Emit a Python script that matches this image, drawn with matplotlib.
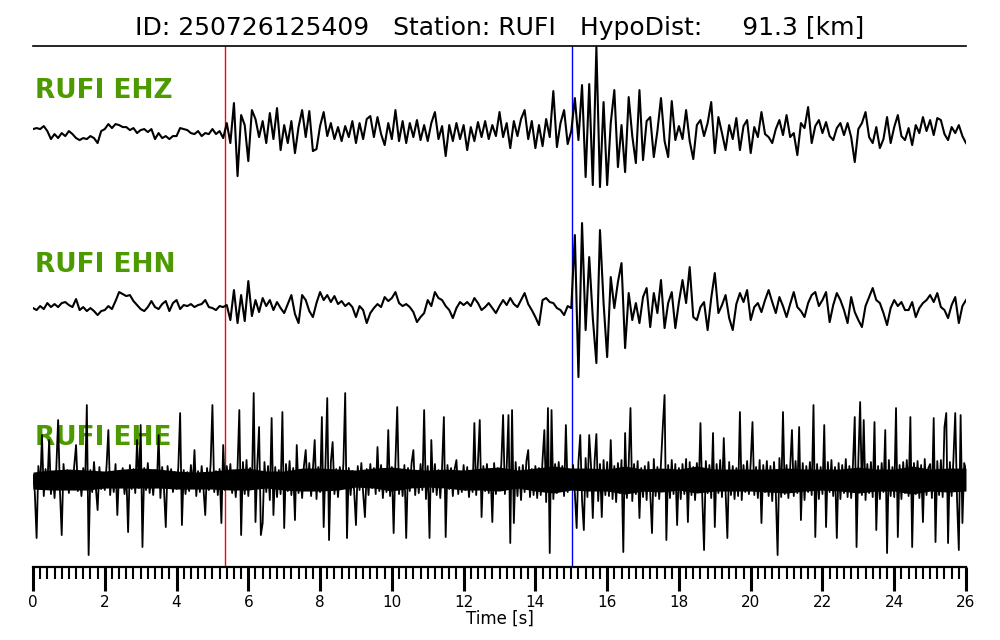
import numpy as np
import matplotlib.pyplot as plt
from matplotlib.ticker import MultipleLocator

# event info
event_id = "250726125409"
station = "RUFI"
hypo_dist = 91.3
channels = ["EHZ", "EHN", "EHE"]
p_pick = 5.35
s_pick = 15.02

# traces (amplitude in screen px, up = positive)
dt_zn = 0.1
ehz = [
    2, 3, 2, 5, 0, -8, -3, -7, -2, -5,
    0, -3, -7, -9, -7, -8, -5, -7, -12, 0,
    2, 7, 3, 7, 6, 4, 4, 1, 3, -2,
    1, 2, -1, 2, -8, -2, -7, -5, -8, -5,
    -5, 3, 2, 1, -2, -3, 0, -5, -2, -3,
    2, -3, 0, -7, 8, -12, 28, -45, 16, 6,
    -30, 21, 12, -6, 10, -12, 18, -8, 23, -19,
    6, -12, 10, -22, 4, 21, -6, 20, -20, -18,
    5, 19, -5, 8, -8, 4, -10, 5, -6, 10,
    -12, 8, -8, 12, 15, -6, 14, -3, -14, 8,
    -8, 21, -10, 10, -12, 8, -6, 11, -9, 6,
    -10, 8, 19, -8, 5, -25, 6, -10, 8, -8,
    6, -19, 4, -10, 9, -6, 10, -8, 6, -5,
    19, -6, 8, -17, 10, -5, 12, 21, -8, 10,
    -17, 6, -15, 12, -6, 40, -16, 8, 21, -13,
    0, 33, -9, 46, -46, 47, -54, 84, -56, 29,
    -54, 8, 41, -36, 6, -41, 34, -5, -32, 41,
    -29, 10, 14, -26, 0, 33, -10, -26, 30, -9,
    5, -8, 21, -10, -28, 6, 11, -5, 8, 29,
    -22, 14, -2, -19, 6, -8, 13, -19, 5, 11,
    -22, 4, -6, 19, -3, -6, -12, 2, 11, -4,
    16, -6, -2, -24, 8, 3, 24, -12, 5, 11,
    -2, 9, -5, -9, 3, 8, -4, 8, -6, -31,
    2, 8, 19, -6, -12, 4, -17, -8, 14, -12,
    4, 16, -5, -9, 3, -14, 6, -2, 14, 0,
    11, -4, 13, 11, -3, -9, 4, -2, 6, -5,
    -12,
]
ehn = [
    0, -2, 2, -1, 5, 1, 4, 1, 5, 6,
    3, 1, 9, -2, 1, -3, 0, -3, -7, -3,
    -2, 2, -1, 7, 16, 14, 12, 13, 7, 3,
    -1, -3, 1, 7, 1, -1, 4, 7, -3, 5,
    8, -1, 3, 2, 4, 1, 3, 4, 8, 1,
    0, -2, 2, 1, 3, -12, 18, -15, 13, -13,
    27, -8, 8, -4, 10, 2, 8, -2, 6, 0,
    -5, 4, 13, -6, -15, 13, 8, -3, -9, 5,
    16, 8, 13, 6, 12, 4, 7, 2, 5, 1,
    -9, 2, -2, -15, -5, 0, 4, 1, 11, 7,
    10, 16, 5, 2, 4, 1, -4, -14, -9, -5,
    8, 2, 16, 10, 8, 2, -2, -10, 0, 6,
    3, 6, 2, 10, 5, -2, 1, 5, 0, -5,
    2, 8, 3, 10, 4, 1, 8, 15, 4, -2,
    -9, -17, 8, 10, 6, 5, 0, -2, -7, 2,
    0, 73, -69, 85, -22, 51, -10, -55, 78, 5,
    -49, 31, 0, 26, 45, -40, 15, -12, 5, -15,
    11, 20, -19, 15, -5, 28, -20, 5, 16, -20,
    6, 28, 5, 41, -9, -12, 1, 6, -22, 10,
    35, -5, 3, 13, -10, -22, 4, 15, 6, 18,
    -12, 1, 5, -4, 8, 18, 6, -5, 11, 2,
    -9, 4, 16, 1, -3, -9, 5, 13, 16, 2,
    8, 16, -14, 3, 15, 8, -2, -15, 11, -4,
    -12, -19, 2, 11, 20, 8, 5, -5, -17, 0,
    8, 2, 6, -2, -2, 6, -9, 0, 5, 8,
    13, 6, 15, 1, -2, -10, 3, 11, -15, 2,
    8,
]
dt_e = 0.05
ehe = [
    5, -12, -58, 14, -9, 45, -16, 11, -7, 40, -14, 8, -18, 12, 60, -10, -55, 16, -8, 10,
    -13, 9, -6, 15, 35, -11, 7, -16, 12, -8, 75, -75, 10, -12, 18, -7, -30, 13, -9, 6,
    -10, 14, 50, -15, 8, -12, 16, -35, 9, -6, 12, -14, 7, -52, 15, -9, 11, -13, 40, -8,
    55, -67, 12, -10, 17, -13, 6, -15, 10, -7, 45, -18, 13, -9, -47, 14, -6, 11, -12, 8,
    -9, 13, 67, -45, 10, -14, 8, -11, 15, -7, 30, -16, 9, -12, 14, -8, -35, 12, -10, 16,
    75, -12, 9, -15, 11, -43, 35, -10, 14, -8, 16, -13, 7, -17, 12, 70, -55, 18, -14, 20,
    -16, 12, -9, 87, -42, 15, 53, -55, -43, 18, -12, 14, -20, 62, -35, 13, -17, 10, -14, 68,
    -48, 16, -11, 19, -15, 12, -40, 35, -13, 9, -18, 14, 30, -10, 17, -16, 11, 40, -19, 13,
    -12, 63, -47, 15, 82, -60, 18, 38, -14, 11, -17, 13, -9, 16, 87, -58, 12, -15, 9, -11,
    -45, 14, -10, 17, -13, -37, 11, -15, 16, -8, 12, -14, 33, -11, 15, -18, 9, -12, 50, -16,
    13, -53, 18, 73, -14, 10, -16, 15, -58, 12, -11, 17, 30, -15, 9, -13, 16, -10, 70, -19,
    14, -58, 40, -12, 16, -15, 10, -18, 13, 63, -57, 15, -9, 12, -16, 11, 20, -14, 8, -12,
    15, -10, 13, -17, 9, -12, 57, -15, 18, 60, -37, 14, -11, 16, -13, 10, -42, 17, -14, 12,
    -9, 16, 65, -14, 12, 65, -63, 70, -43, 18, -16, 13, -20, 15, -12, 19, 30, -17, 11, -15,
    14, -18, 12, -15, 20, 50, -22, 72, -73, 70, -19, 16, -13, 18, -11, 14, -16, 55, -12, 10,
    -8, 15, -13, -48, 18, 45, -20, -50, 22, -17, 45, 14, -38, 19, 46, -21, 16, -37, 20, -15,
    18, -16, 40, -19, 14, -22, 17, -13, 20, -72, 47, -18, 15, 72, -21, 16, -14, 19, -38, 12,
    -17, 14, -20, 18, -12, -53, 21, -16, 13, -19, 17, 53, 85, -60, 15, -18, 20, -14, 16, -45,
    12, -19, 16, -14, 21, -42, 18, -15, 13, -20, 17, -12, 57, -16, -70, 19, -13, 15, -18, 47,
    -47, 16, -13, 20, -17, 42, -11, -58, 18, -15, 14, -19, 12, -16, 68, -20, 15, -12, 19, -14,
    17, 58, -15, 13, -18, 20, -43, 15, -12, 19, -16, 14, -21, 18, -13, -75, 22, -17, 68, -14,
    15, -18, 12, 50, -16, 19, -13, 53, -40, 17, -20, 14, -12, 18, -15, 75, -57, 16, -19, 13,
    -14, 55, -47, 18, -12, 20, -16, 13, -58, 17, -19, 15, -13, 21, -17, 14, -18, 16, 63, -67,
    19, 78, -15, 60, -20, 16, -13, 18, -17, 58, -50, 14, -19, 17, -12, 50, -73, 20, -16, 13,
    -17, 72, -57, 15, -19, 18, -13, 20, -16, 63, -67, 17, -14, 19, -18, 15, -42, 21, -15, 12,
    16, -18, 62, -62, 19, -15, 20, -17, 53, 67, -63, 18, -16, 21, 67, -19, -70, 65, -43, 17,
    10,
]
# solid black core of the EHE trace (upper / lower edge, every 0.5 s)
dt_core = 0.5
ehe_core_hi = [
    8, 10, 11, 10, 9, 11, 12, 11, 9, 8,
    9, 11, 12, 9, 9, 12, 12, 11, 10, 12,
    13, 11, 10, 11, 10, 12, 13, 10, 12, 14,
    12, 12, 11, 14, 11, 12, 11, 14, 11, 11,
    11, 11, 12, 11, 11, 11, 13, 11, 11, 14,
    11, 12, 12,
]
ehe_core_lo = [
    -9, -10, -10, -10, -8, -8, -8, -8, -9, -9,
    -9, -10, -10, -8, -10, -11, -11, -10, -7, -8,
    -11, -8, -7, -8, -10, -10, -11, -8, -11, -13,
    -10, -11, -11, -14, -11, -12, -10, -13, -11, -11,
    -11, -12, -13, -11, -10, -11, -13, -11, -11, -14,
    -11, -12, -11,
]

traces = {"EHZ": (ehz, dt_zn), "EHN": (ehn, dt_zn), "EHE": (ehe, dt_e)}

# layout: the axes y range is in screen pixels counted from the bottom
baselines = {"EHZ": 509, "EHN": 332, "EHE": 160}
label_y = {"EHZ": 549, "EHN": 375, "EHE": 202}
label_color = "#4c9a00"

fig = plt.figure(figsize=(10, 6.4), dpi=100)
ax = fig.add_axes([0.033, 0.114, 0.933, 0.814])
ax.set_xlim(0, 26)
ax.set_ylim(73, 594)

for ch in channels:
    vals, dt = traces[ch]
    vals = np.asarray(vals, dtype=float)
    t = np.arange(len(vals)) * dt
    lw = 1.3 if ch == "EHE" else 1.5
    ax.plot(t, baselines[ch] + vals, color="black", lw=lw, zorder=3)
    ax.text(0.05, label_y[ch], f"{station} {ch}", color=label_color,
            fontsize=19, fontweight="bold", ha="left", va="center", zorder=1)

tc = np.arange(len(ehe_core_hi)) * dt_core
ax.fill_between(tc, baselines["EHE"] + np.array(ehe_core_lo),
                baselines["EHE"] + np.array(ehe_core_hi),
                color="black", lw=0, zorder=3)

ax.axvline(p_pick, color="#ff0000", lw=1.0, zorder=2)
ax.axvline(s_pick, color="#0000ff", lw=1.0, zorder=2)

ax.set_title(f"ID: {event_id}   Station: {station}   HypoDist: {hypo_dist:8.1f} [km]",
             fontsize=18, pad=8)

for side in ["left", "right"]:
    ax.spines[side].set_visible(False)
ax.spines["top"].set_linewidth(1.2)
ax.spines["bottom"].set_linewidth(1.6)
ax.set_yticks([])
ax.xaxis.set_major_locator(MultipleLocator(2))
ax.xaxis.set_minor_locator(MultipleLocator(0.2))
ax.tick_params(axis="x", which="major", direction="out", length=17, width=2.2,
               labelsize=11, pad=3)
ax.tick_params(axis="x", which="minor", direction="out", length=8.5, width=1.5)
ax.set_xlabel("Time [s]", fontsize=12, labelpad=0)

fig.savefig("out.png", dpi=100)
